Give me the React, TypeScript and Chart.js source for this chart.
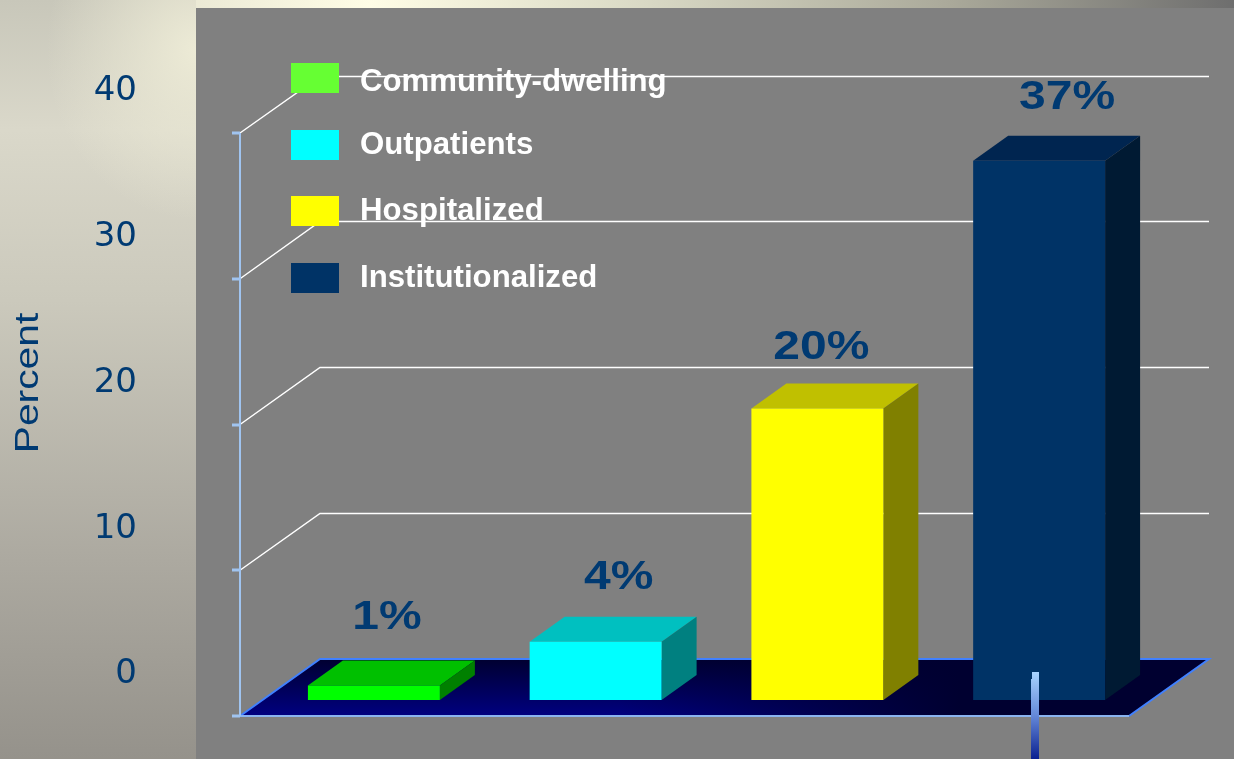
import React, { useEffect, useRef } from "react";
import { Chart, registerables } from "chart.js";

Chart.register(...registerables);

// Prevalence by care setting
const categories = ["Community-dwelling", "Outpatients", "Hospitalized", "Institutionalized"];
const percentValues = [1, 4, 20, 37];
const percentLabels = ["1%", "4%", "20%", "37%"];
const axisTicks = [0, 10, 20, 30, 40];

const frontColors = ["#00ff00", "#00ffff", "#ffff00", "#003366"];
const topColors = ["#00c000", "#00c0c0", "#c0c000", "#002550"];
const sideColors = ["#008000", "#008080", "#808000", "#001a33"];
const legendColors = ["#66ff33", "#00ffff", "#ffff00", "#003366"];

// Oblique projection used for the box sides, the floor and the back wall
const BOX_DEPTH = { x: 35, y: 25 };
const WALL = { x: 57, y: 41 };
const FRONT = { x: -23, y: 16 };

const INK = "#003a72";
const LABEL_NUDGE = [13, 23, 4, 28];
const LABEL_RISE = [67, 64, 61, 63];
const LEGEND_TEXT_ROWS = [82, 145, 211, 278];
const LEGEND_BOX_ROWS = [63, 130, 196, 263];

function stretchedText(ctx: CanvasRenderingContext2D, text: string, x: number, y: number, font: string, color: string, sx: number, angle = 0) {
  ctx.save();
  ctx.translate(x, y);
  ctx.rotate(angle);
  ctx.scale(sx, 1);
  ctx.font = font;
  ctx.fillStyle = color;
  ctx.textAlign = "center";
  ctx.textBaseline = "middle";
  ctx.fillText(text, 0, 0);
  ctx.restore();
}

const perspectivePlugin = {
  id: "perspective",
  beforeDatasetsDraw(chart: any) {
    const { ctx, chartArea, scales } = chart;
    const y = scales.y;
    const base = y.getPixelForValue(0);
    const left = chartArea.left;
    const right = chartArea.right;
    const fx0 = left + FRONT.x;
    const fx1 = right + FRONT.x + 2;
    const bx0 = fx0 + 80;
    const bx1 = fx1 + 80;
    const fy = base + FRONT.y;
    const by = base - WALL.y;

    // Floor: lit toward the front left, falling into shadow at the right
    const floorPath = () => {
      ctx.beginPath();
      ctx.moveTo(fx0, fy);
      ctx.lineTo(bx0, by);
      ctx.lineTo(bx1, by);
      ctx.lineTo(fx1, fy);
      ctx.closePath();
    };
    const floor = ctx.createLinearGradient(0, by, 0, fy);
    floor.addColorStop(0, "#000030");
    floor.addColorStop(1, "#000080");
    floorPath();
    ctx.fillStyle = floor;
    ctx.fill();
    const shade = ctx.createLinearGradient(620, 0, 960, 0);
    shade.addColorStop(0, "rgba(0,0,48,0)");
    shade.addColorStop(1, "rgba(0,0,48,1)");
    floorPath();
    ctx.fillStyle = shade;
    ctx.fill();

    ctx.lineWidth = 2;
    ctx.strokeStyle = "#4080ff";
    ctx.beginPath();
    ctx.moveTo(fx0, fy);
    ctx.lineTo(bx0, by);
    ctx.lineTo(bx1, by);
    ctx.lineTo(fx1, fy);
    ctx.stroke();
    ctx.strokeStyle = "#8ab4f0";
    ctx.beginPath();
    ctx.moveTo(fx0, fy);
    ctx.lineTo(fx1, fy);
    ctx.stroke();

    // Back wall grid, with its return to the front axis
    ctx.strokeStyle = "#ffffff";
    ctx.lineWidth = 1.5;
    for (const t of axisTicks) {
      if (t === 0) continue;
      const py = y.getPixelForValue(t);
      const wy = Math.floor(py - WALL.y) + 0.5;
      ctx.beginPath();
      ctx.moveTo(fx0, py + FRONT.y);
      ctx.lineTo(bx0, wy);
      ctx.lineTo(bx1, wy);
      ctx.stroke();
    }

    // Front axis with tick marks
    const topY = y.getPixelForValue(40) + FRONT.y;
    ctx.strokeStyle = "#a0c4f0";
    ctx.lineWidth = 2;
    ctx.beginPath();
    ctx.moveTo(fx0, topY);
    ctx.lineTo(fx0, fy);
    ctx.stroke();
    ctx.lineWidth = 3;
    for (const t of axisTicks) {
      const py = Math.round(y.getPixelForValue(t) + FRONT.y);
      ctx.beginPath();
      ctx.moveTo(fx0 - 8, py);
      ctx.lineTo(fx0, py);
      ctx.stroke();
    }

    // Top and side faces of every box
    const meta = chart.getDatasetMeta(0);
    meta.data.forEach((bar: any, i: number) => {
      const x0 = bar.x - bar.width / 2;
      const x1 = bar.x + bar.width / 2;
      ctx.fillStyle = topColors[i];
      ctx.beginPath();
      ctx.moveTo(x0, bar.y);
      ctx.lineTo(x0 + BOX_DEPTH.x, bar.y - BOX_DEPTH.y);
      ctx.lineTo(x1 + BOX_DEPTH.x, bar.y - BOX_DEPTH.y);
      ctx.lineTo(x1, bar.y);
      ctx.closePath();
      ctx.fill();
      ctx.fillStyle = sideColors[i];
      ctx.beginPath();
      ctx.moveTo(x1, bar.y);
      ctx.lineTo(x1 + BOX_DEPTH.x, bar.y - BOX_DEPTH.y);
      ctx.lineTo(x1 + BOX_DEPTH.x, bar.base - BOX_DEPTH.y);
      ctx.lineTo(x1, bar.base);
      ctx.closePath();
      ctx.fill();
    });
  },
  afterDatasetsDraw(chart: any) {
    const { ctx } = chart;
    const meta = chart.getDatasetMeta(0);

    // Value labels
    meta.data.forEach((bar: any, i: number) => {
      stretchedText(ctx, percentLabels[i], bar.x + LABEL_NUDGE[i], bar.y - LABEL_RISE[i], "bold 40px 'Liberation Sans'", INK, 1.2);
    });

    // Axis title
    stretchedText(ctx, "Percent", 29, 383, "34px 'Liberation Sans'", INK, 1.2, -Math.PI / 2);

    // Key
    categories.forEach((name, i) => {
      ctx.fillStyle = legendColors[i];
      ctx.fillRect(291, LEGEND_BOX_ROWS[i], 48, 30);
      ctx.font = "bold 31.2px 'Liberation Sans'";
      ctx.fillStyle = "#ffffff";
      ctx.textAlign = "left";
      ctx.textBaseline = "middle";
      ctx.fillText(name, 360, LEGEND_TEXT_ROWS[i]);
    });

    // Stem below the floor
    const stem = ctx.createLinearGradient(0, 672, 0, 759);
    stem.addColorStop(0, "#a8d4ff");
    stem.addColorStop(0.5, "#6488d8");
    stem.addColorStop(1, "#0a2090");
    ctx.fillStyle = stem;
    ctx.fillRect(1032, 672, 7, 8);
    ctx.fillRect(1031, 679, 8, 80);
  },
};

export default function App() {
  const canvasRef = useRef<HTMLCanvasElement>(null);

  useEffect(() => {
    const chart = new Chart(canvasRef.current!, {
      type: "bar",
      data: {
        labels: categories,
        datasets: [
          {
            data: percentValues,
            backgroundColor: frontColors,
            borderWidth: 0,
            categoryPercentage: 1,
            barPercentage: 0.595,
          },
        ],
      },
      options: {
        responsive: false,
        animation: false,
        layout: { padding: { top: 117, bottom: 59, left: 0, right: 84 } },
        plugins: { legend: { display: false }, tooltip: { enabled: false }, title: { display: false } },
        scales: {
          x: { display: false },
          y: {
            min: 0,
            max: 40,
            afterFit: (scale: any) => {
              scale.width = 263;
              scale.paddingTop = 0;
              scale.paddingBottom = 0;
            },
            afterBuildTicks: (scale: any) => {
              scale.ticks = axisTicks.map((value) => ({ value }));
            },
            grid: { display: false, drawTicks: false },
            border: { display: false },
            ticks: {
              padding: 126,
              labelOffset: -25.5,
              color: INK,
              font: { family: "'DejaVu Sans'", size: 34 },
            },
          },
        },
      },
      plugins: [perspectivePlugin],
    });
    return () => chart.destroy();
  }, []);

  return (
    <div
      style={{
        position: "absolute",
        left: 0,
        top: 0,
        width: 1234,
        height: 759,
        overflow: "hidden",
        background:
          "linear-gradient(90deg, #b8b8ac 0px, #ebe9d5 190px, #fffde6 370px, #d8d8c4 650px, #aaa99a 950px, #6e6e6e 1234px)",
      }}
    >
      <div
        style={{
          position: "absolute",
          left: 0,
          top: 0,
          width: 196,
          height: 759,
          background: "linear-gradient(180deg, #c8c7ba 0px, #dad8ca 130px, #cbc9bc 300px, #aca9a0 560px, #95928b 759px)",
        }}
      />
      <div
        style={{
          position: "absolute",
          left: 0,
          top: 0,
          width: 196,
          height: 759,
          background: "radial-gradient(ellipse 150px 170px at 196px 50px, rgba(238,236,215,0.95), rgba(238,236,215,0))",
        }}
      />
      <div style={{ position: "absolute", left: 196, top: 8, width: 1038, height: 751, background: "#808080" }} />
      <canvas ref={canvasRef} width={1234} height={759} style={{ position: "absolute", left: 0, top: 0, display: "block" }} />
    </div>
  );
}
